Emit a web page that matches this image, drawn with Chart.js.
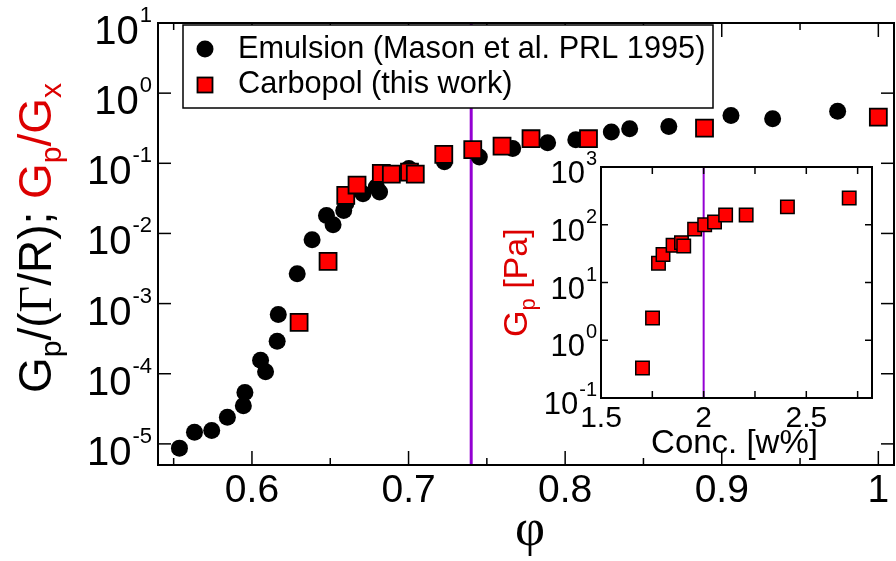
<!DOCTYPE html>
<html>
<head>
<meta charset="utf-8">
<script src="https://cdn.jsdelivr.net/npm/chart.js@4.4.1/dist/chart.umd.min.js"></script>
<style>
  html, body { margin: 0; padding: 0; background: #fff; }
  #wrap { position: relative; width: 896px; height: 561px; }
  #main { position: absolute; left: 0; top: 0; }
  #inset { position: absolute; left: 440px; top: 140px; }
</style>
</head>
<body>
<div id="wrap">
  <canvas id="main" width="896" height="561"></canvas>
  <canvas id="inset" width="450" height="330"></canvas>
</div>
<script>
// ---- data ----
const emulsionPhi = [0.5537, 0.5633, 0.5743, 0.5843, 0.5945, 0.5955, 0.6055, 0.6087, 0.6161, 0.6168,
  0.6289, 0.6384, 0.6476, 0.6518, 0.6586, 0.6600, 0.6709, 0.6794, 0.6815, 0.7002,
  0.7229, 0.7452, 0.7665, 0.7888, 0.8068, 0.8295, 0.8412, 0.8662, 0.9059, 0.9325, 0.974];
const emulsionG = [8.7e-6, 1.47e-5, 1.55e-5, 2.4e-5, 3.5e-5, 5.4e-5, 1.56e-4, 1.07e-4, 2.9e-4, 7.0e-4,
  2.66e-3, 8.1e-3, 0.018, 0.0133, 0.0212, 0.027, 0.0367, 0.046, 0.039, 0.084,
  0.105, 0.123, 0.162, 0.197, 0.217, 0.279, 0.31, 0.335, 0.48, 0.43, 0.55];

const carbopolPhi = [0.6301, 0.6486, 0.6599, 0.6671, 0.6826, 0.6890, 0.7006, 0.7043,
  0.7225, 0.7410, 0.7597, 0.7782, 0.8149, 0.889, 1.0];
const carbopolG = [5.4e-4, 4.0e-3, 0.0348, 0.049, 0.072, 0.070, 0.075, 0.070,
  0.134, 0.157, 0.176, 0.224, 0.224, 0.318, 0.456];

const concW = [1.702, 1.751, 1.780, 1.802, 1.851, 1.892, 1.903, 1.956, 2.005, 2.053, 2.107, 2.207, 2.408, 2.709];
const carbopolGp = [0.33, 2.43, 21.6, 30.6, 44, 49, 43, 84, 100, 112, 147, 147, 204, 290];

const phiTicks = [0.6, 0.7, 0.8, 0.9, 1.0];
const phiTickLabels = ['0.6', '0.7', '0.8', '0.9', '1'];
const phiMinorTicks = [0.55, 0.65, 0.75, 0.85, 0.95];
const gExponents = [-5, -4, -3, -2, -1, 0, 1];

const concTicks = [1.5, 2, 2.5];
const concTickLabels = ['1.5', '2', '2.5'];
const concMinorTicks = [1.75, 2.25, 2.75];
const gpExponents = [-1, 0, 1, 2, 3];

const phiJamming = 0.74;
const concJamming = 2;

const G_MIN = 5e-6, G_MAX = 10;
const GP_MIN = 0.1, GP_MAX = 1000;

// ---- styling helpers ----
const SANS = '"Liberation Sans", Arial, Helvetica, sans-serif';
const SERIF = '"Liberation Serif", "Times New Roman", serif';
const RED_TEXT = 'rgb(220,0,0)';
const VIOLET = '#9400d3';

function toPoints(xs, ys) {
  return xs.map((x, i) => ({ x: x, y: ys[i] }));
}

function seg(ctx, x1, y1, x2, y2) {
  ctx.beginPath();
  ctx.moveTo(x1, y1);
  ctx.lineTo(x2, y2);
  ctx.stroke();
}

// "10" with a raised exponent, right aligned at xr
function drawPower(ctx, exp, xr, baseY, size, expSize, raise) {
  ctx.fillStyle = '#000';
  ctx.textBaseline = 'alphabetic';
  ctx.textAlign = 'left';
  const expStr = String(exp);
  ctx.font = expSize + 'px ' + SANS;
  const ew = ctx.measureText(expStr).width;
  ctx.fillText(expStr, xr - ew, baseY - raise);
  ctx.font = size + 'px ' + SANS;
  const bw = ctx.measureText('10').width;
  ctx.fillText('10', xr - ew - bw - 1, baseY);
}

// text built from pieces (sub/superscripts, colours), rotated 90deg ccw
function drawRotated(ctx, pieces, x, y) {
  ctx.save();
  ctx.translate(x, y);
  ctx.rotate(-Math.PI / 2);
  ctx.textAlign = 'left';
  ctx.textBaseline = 'alphabetic';
  let cx = 0;
  pieces.forEach(p => {
    ctx.font = p.font;
    ctx.fillStyle = p.color;
    ctx.fillText(p.t, cx, p.dy || 0);
    cx += ctx.measureText(p.t).width;
  });
  ctx.restore();
}

// ---- main chart decorations ----
const mainDecor = {
  id: 'mainDecor',
  afterDraw(chart) {
    const { ctx, chartArea: a, scales: { x, y } } = chart;
    ctx.save();
    ctx.strokeStyle = '#000';
    ctx.lineWidth = 1.5;
    phiTicks.forEach(v => {
      const px = x.getPixelForValue(v);
      seg(ctx, px, a.bottom, px, a.bottom - 14);
      seg(ctx, px, a.top, px, a.top + 14);
    });
    phiMinorTicks.forEach(v => {
      const px = x.getPixelForValue(v);
      seg(ctx, px, a.bottom, px, a.bottom - 7);
      seg(ctx, px, a.top, px, a.top + 7);
    });
    gExponents.forEach(e => {
      const py = y.getPixelForValue(Math.pow(10, e));
      seg(ctx, a.left, py, a.left + 13, py);
      seg(ctx, a.right, py, a.right - 13, py);
    });

    // legend
    ctx.fillStyle = '#fff';
    ctx.fillRect(183, 25, 530, 83);
    ctx.lineWidth = 1.5;
    ctx.strokeRect(183, 25, 530, 83);

    ctx.lineWidth = 2;
    ctx.strokeRect(a.left, a.top, a.right - a.left, a.bottom - a.top);

    ctx.fillStyle = '#000';
    ctx.beginPath();
    ctx.arc(205, 49, 8.5, 0, Math.PI * 2);
    ctx.fill();
    ctx.fillStyle = '#ff0000';
    ctx.fillRect(197.5, 77.5, 15, 15);
    ctx.lineWidth = 1.8;
    ctx.strokeRect(197.5, 77.5, 15, 15);

    ctx.fillStyle = '#000';
    ctx.font = '30.7px ' + SANS;
    ctx.textAlign = 'left';
    ctx.textBaseline = 'alphabetic';
    ctx.fillText(chart.data.datasets[0].label, 238, 58);
    ctx.fillText(chart.data.datasets[1].label, 238, 93);

    // x tick labels
    ctx.font = '39px ' + SANS;
    ctx.textAlign = 'center';
    phiTicks.forEach((v, i) => {
      ctx.fillText(phiTickLabels[i], x.getPixelForValue(v), a.bottom + 37);
    });

    // y tick labels
    gExponents.forEach(e => {
      const py = y.getPixelForValue(Math.pow(10, e));
      drawPower(ctx, e, a.left - 6, py + 21, 40, 22, 22);
    });

    // axis titles
    ctx.fillStyle = '#000';
    ctx.font = '52px ' + SERIF;
    ctx.textAlign = 'center';
    ctx.fillText('φ', (a.left + a.right) / 2 + 4, 545);

    const F = '46px ' + SANS, S = '30px ' + SANS;
    drawRotated(ctx, [
      { t: 'G', font: F, color: '#000' },
      { t: 'p', font: S, color: '#000', dy: 10 },
      { t: '/(', font: F, color: '#000' },
      { t: 'Γ', font: '46px ' + SERIF, color: '#000' },
      { t: '/R); ', font: F, color: '#000' },
      { t: 'G', font: F, color: RED_TEXT },
      { t: 'p', font: S, color: RED_TEXT, dy: 10 },
      { t: '/G', font: F, color: RED_TEXT },
      { t: 'x', font: S, color: RED_TEXT, dy: 10 }
    ], 51, 393);
    ctx.restore();
  }
};

new Chart(document.getElementById('main'), {
  type: 'scatter',
  data: {
    datasets: [
      {
        label: 'Emulsion (Mason et al. PRL 1995)',
        data: toPoints(emulsionPhi, emulsionG),
        pointStyle: 'circle',
        pointRadius: 8.5,
        backgroundColor: '#000',
        borderWidth: 0,
        order: 2
      },
      {
        label: 'Carbopol (this work)',
        data: toPoints(carbopolPhi, carbopolG),
        pointStyle: 'rect',
        pointRadius: 12,
        backgroundColor: '#ff0000',
        borderColor: '#000',
        borderWidth: 1.8,
        order: 1
      },
      {
        type: 'line',
        label: 'jamming',
        data: [{ x: phiJamming, y: G_MIN }, { x: phiJamming, y: G_MAX }],
        borderColor: VIOLET,
        borderWidth: 3,
        pointRadius: 0,
        order: 3
      }
    ]
  },
  options: {
    responsive: false,
    animation: false,
    layout: { autoPadding: false, padding: { top: 23, right: 2, left: 0, bottom: 0 } },
    plugins: { legend: { display: false }, tooltip: { enabled: false } },
    scales: {
      x: {
        type: 'linear',
        min: 0.54,
        max: 1.01,
        grid: { display: false },
        border: { display: false },
        afterBuildTicks: s => { s.ticks = phiTicks.map(v => ({ value: v })); },
        afterFit: s => { s.height = 96; },
        ticks: { display: false }
      },
      y: {
        type: 'logarithmic',
        min: G_MIN,
        max: G_MAX,
        grid: { display: false },
        border: { display: false },
        afterBuildTicks: s => { s.ticks = gExponents.map(e => ({ value: Math.pow(10, e) })); },
        afterFit: s => { s.width = 158; },
        ticks: { display: false }
      }
    }
  },
  plugins: [mainDecor]
});

// ---- inset ----
const insetDecor = {
  id: 'insetDecor',
  afterDraw(chart) {
    const { ctx, chartArea: a, scales: { x, y } } = chart;
    ctx.save();
    ctx.strokeStyle = '#000';
    ctx.lineWidth = 1.5;
    concTicks.concat(concMinorTicks).forEach(v => {
      const px = x.getPixelForValue(v);
      seg(ctx, px, a.bottom, px, a.bottom - 7);
      seg(ctx, px, a.top, px, a.top + 7);
    });
    gpExponents.forEach(e => {
      const py = y.getPixelForValue(Math.pow(10, e));
      seg(ctx, a.left, py, a.left + 7, py);
      seg(ctx, a.right, py, a.right - 7, py);
    });
    ctx.lineWidth = 2;
    ctx.strokeRect(a.left, a.top, a.right - a.left, a.bottom - a.top);

    gpExponents.forEach(e => {
      const py = y.getPixelForValue(Math.pow(10, e));
      drawPower(ctx, e, a.left - 4, py + 16, 31, 20, 18);
    });

    ctx.fillStyle = '#000';
    ctx.font = '30px ' + SANS;
    ctx.textAlign = 'center';
    ctx.textBaseline = 'alphabetic';
    concTicks.forEach((v, i) => {
      ctx.fillText(concTickLabels[i], x.getPixelForValue(v), a.bottom + 29);
    });

    ctx.font = '33px ' + SANS;
    ctx.fillText('Conc. [w%]', (a.left + a.right) / 2 - 2, 313);

    drawRotated(ctx, [
      { t: 'G', font: '34px ' + SANS, color: RED_TEXT },
      { t: 'p', font: '22px ' + SANS, color: RED_TEXT, dy: 8 },
      { t: ' [Pa]', font: '34px ' + SANS, color: RED_TEXT }
    ], 87, 197);
    ctx.restore();
  }
};

new Chart(document.getElementById('inset'), {
  type: 'scatter',
  data: {
    datasets: [
      {
        label: 'Carbopol',
        data: toPoints(concW, carbopolGp),
        pointStyle: 'rect',
        pointRadius: 9.5,
        backgroundColor: '#ff0000',
        borderColor: '#000',
        borderWidth: 1.5,
        order: 1
      },
      {
        type: 'line',
        label: 'jamming',
        data: [{ x: concJamming, y: GP_MIN }, { x: concJamming, y: GP_MAX }],
        borderColor: VIOLET,
        borderWidth: 2,
        pointRadius: 0,
        order: 2
      }
    ]
  },
  options: {
    responsive: false,
    animation: false,
    layout: { autoPadding: false, padding: { top: 27, right: 18, left: 0, bottom: 0 } },
    plugins: { legend: { display: false }, tooltip: { enabled: false } },
    scales: {
      x: {
        type: 'linear',
        min: 1.5,
        max: 2.82,
        grid: { display: false },
        border: { display: false },
        afterBuildTicks: s => { s.ticks = concTicks.map(v => ({ value: v })); },
        afterFit: s => { s.height = 72; },
        ticks: { display: false }
      },
      y: {
        type: 'logarithmic',
        min: GP_MIN,
        max: GP_MAX,
        grid: { display: false },
        border: { display: false },
        afterBuildTicks: s => { s.ticks = gpExponents.map(e => ({ value: Math.pow(10, e) })); },
        afterFit: s => { s.width = 161; },
        ticks: { display: false }
      }
    }
  },
  plugins: [insetDecor]
});
</script>
</body>
</html>
